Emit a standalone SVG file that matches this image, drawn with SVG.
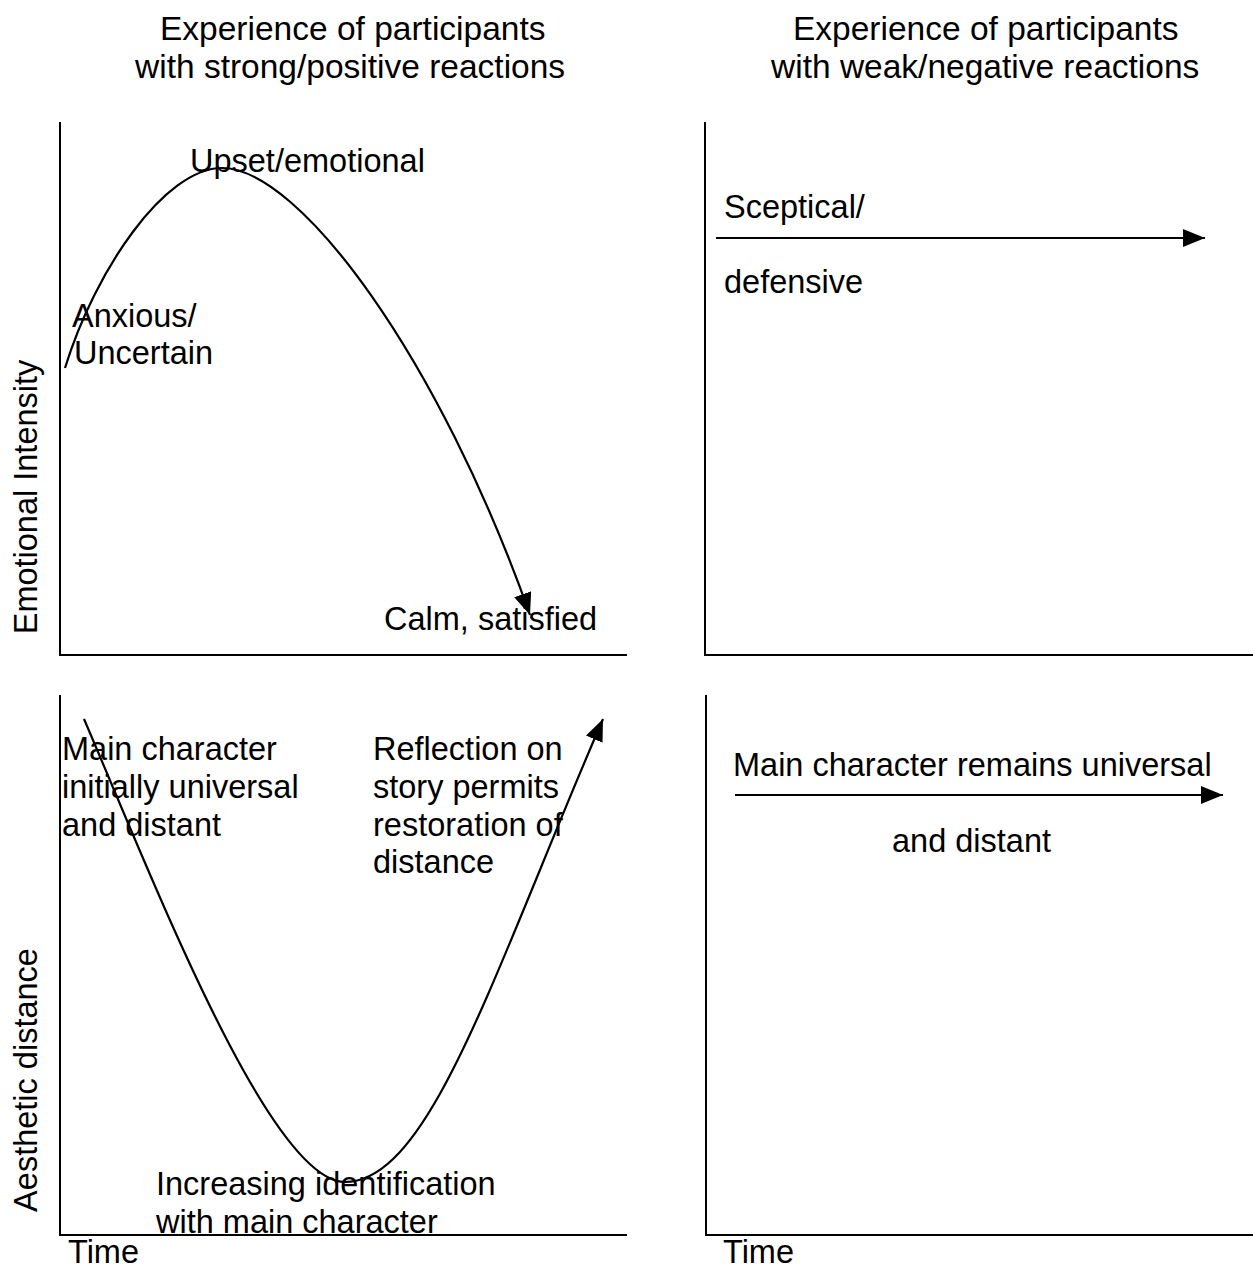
<svg xmlns="http://www.w3.org/2000/svg" width="1253" height="1269" viewBox="0 0 1253 1269">
<style>
text{font-family:"Liberation Sans",Arial,sans-serif;font-size:32.5px;fill:#000}
.title{font-size:33.5px}
.axis{stroke:#000;stroke-width:2;fill:none}
.curve{stroke:#000;stroke-width:2.2;fill:none}
</style>
<defs>
<marker id="arr" markerUnits="userSpaceOnUse" markerWidth="24" markerHeight="18" refX="22" refY="9" orient="auto">
<path d="M0,0 L22,9 L0,18 z" fill="#000"/>
</marker>
</defs>
<rect width="1253" height="1269" fill="#fff"/>
<g id="titles">
<text class="title" x="160" y="40">Experience of participants</text>
<text class="title" x="135" y="78">with strong/positive reactions</text>
<text class="title" x="793" y="40">Experience of participants</text>
<text class="title" x="771" y="78">with weak/negative reactions</text>
</g>
<g id="axes">
<path class="axis" d="M60,122 V655 H627"/>
<path class="axis" d="M705,122 V655 H1253"/>
<path class="axis" d="M60,695 V1235 H627"/>
<path class="axis" d="M706,695 V1235 H1253"/>
<text transform="translate(37,497) rotate(-90)" text-anchor="middle">Emotional Intensity</text>
<text transform="translate(37,1080) rotate(-90)" text-anchor="middle">Aesthetic distance</text>
<text x="68" y="1263">Time</text>
<text x="723" y="1263">Time</text>
</g>
<g id="connectors">
<path class="curve" d="M65,368 C95,270 165,168 222,168 C300,168 440,360 530,615" marker-end="url(#arr)"/>
<path class="curve" d="M84,719 C154,882 270,1182 345,1182 C430,1182 493,973 603,719" marker-end="url(#arr)"/>
<line class="curve" x1="716" y1="238" x2="1205" y2="238" marker-end="url(#arr)"/>
<line class="curve" x1="735" y1="795" x2="1223" y2="795" marker-end="url(#arr)"/>
</g>
<g id="node-upset"><text x="190" y="172">Upset/emotional</text></g>
<g id="node-anxious"><text x="72" y="327">Anxious/</text><text x="74" y="364">Uncertain</text></g>
<g id="node-calm"><text x="384" y="630">Calm, satisfied</text></g>
<g id="node-sceptical"><text x="724" y="218">Sceptical/</text><text x="724" y="293">defensive</text></g>
<g id="node-main"><text x="62" y="760">Main character</text><text x="62" y="798">initially universal</text><text x="62" y="836">and distant</text></g>
<g id="node-reflection"><text x="373" y="760">Reflection on</text><text x="373" y="798">story permits</text><text x="373" y="836">restoration of</text><text x="373" y="873">distance</text></g>
<g id="node-increasing"><text x="156" y="1195">Increasing identification</text><text x="156" y="1233">with main character</text></g>
<g id="node-remains"><text x="733" y="776">Main character remains universal</text><text x="892" y="852">and distant</text></g>
</svg>
